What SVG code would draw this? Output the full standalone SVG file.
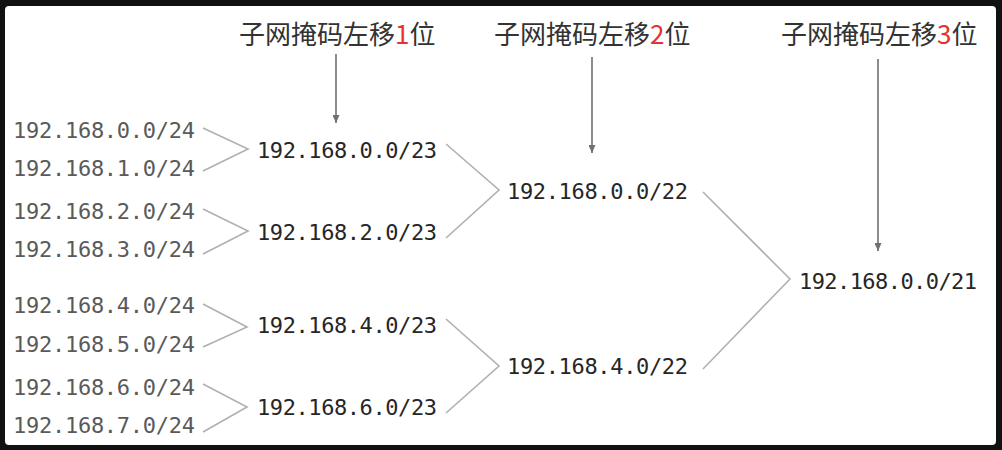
<svg xmlns="http://www.w3.org/2000/svg" width="1002" height="450" viewBox="0 0 1002 450">
  <style>
    .leaf { font-family: "DejaVu Sans Mono", "Liberation Mono", monospace; font-size: 22px; fill: #5a5a5a; }
    .net { font-family: "DejaVu Sans Mono", "Liberation Mono", monospace; font-size: 22px; fill: #262626; }
    .hdr { font-family: "Noto Sans CJK SC", "Noto Sans", sans-serif; font-size: 26px; fill: #333333; }
    .red { fill: #e8312f; }
    .chev { fill: none; stroke: #b0b0b0; stroke-width: 1.6; stroke-linejoin: miter; }
    .arr { fill: none; stroke: #707070; stroke-width: 1.6; }
  </style>
  <defs>
    <marker id="ah" viewBox="0 0 8 7" refX="8" refY="3.5" markerWidth="8" markerHeight="7" markerUnits="userSpaceOnUse" orient="auto">
      <path d="M0,0 L8,3.5 L0,7 Z" fill="#707070"/>
    </marker>
  </defs>
  <rect x="0" y="0" width="1002" height="450" fill="#111111"/>
  <rect x="5" y="6" width="991" height="439" rx="4" fill="#ffffff"/>

  <g id="headers">
    <g id="h1"><text class="hdr" x="239" y="44">子网掩码左移<tspan class="red">1</tspan>位</text></g>
    <g id="h2"><text class="hdr" x="494" y="44">子网掩码左移<tspan class="red">2</tspan>位</text></g>
    <g id="h3"><text class="hdr" x="781" y="44">子网掩码左移<tspan class="red">3</tspan>位</text></g>
  </g>

  <g id="connectors">
    <line class="arr" x1="336" y1="54" x2="336" y2="123" marker-end="url(#ah)"/>
    <line class="arr" x1="592" y1="57" x2="592" y2="153" marker-end="url(#ah)"/>
    <line class="arr" x1="878" y1="59" x2="878" y2="251" marker-end="url(#ah)"/>
    <polyline class="chev" points="203,128 248,149 203,171"/>
    <polyline class="chev" points="203,209 248,231 203,254"/>
    <polyline class="chev" points="203,304 247,327 203,347"/>
    <polyline class="chev" points="203,384 247,407 203,432"/>
    <polyline class="chev" points="446,144 499,190 446,238"/>
    <polyline class="chev" points="446,319 499,366 446,413"/>
    <polyline class="chev" points="703,192 790,279 703,369"/>
  </g>

  <g id="n24-0"><text class="leaf" x="13" y="138" textLength="182" lengthAdjust="spacing">192.168.0.0/24</text></g>
  <g id="n24-1"><text class="leaf" x="13" y="176" textLength="182" lengthAdjust="spacing">192.168.1.0/24</text></g>
  <g id="n24-2"><text class="leaf" x="13" y="219" textLength="182" lengthAdjust="spacing">192.168.2.0/24</text></g>
  <g id="n24-3"><text class="leaf" x="13" y="257" textLength="182" lengthAdjust="spacing">192.168.3.0/24</text></g>
  <g id="n24-4"><text class="leaf" x="13" y="313" textLength="182" lengthAdjust="spacing">192.168.4.0/24</text></g>
  <g id="n24-5"><text class="leaf" x="13" y="352" textLength="182" lengthAdjust="spacing">192.168.5.0/24</text></g>
  <g id="n24-6"><text class="leaf" x="13" y="395" textLength="182" lengthAdjust="spacing">192.168.6.0/24</text></g>
  <g id="n24-7"><text class="leaf" x="13" y="433" textLength="182" lengthAdjust="spacing">192.168.7.0/24</text></g>

  <g id="n23-0"><text class="net" x="257" y="158" textLength="180" lengthAdjust="spacing">192.168.0.0/23</text></g>
  <g id="n23-2"><text class="net" x="257" y="240" textLength="180" lengthAdjust="spacing">192.168.2.0/23</text></g>
  <g id="n23-4"><text class="net" x="257" y="333" textLength="180" lengthAdjust="spacing">192.168.4.0/23</text></g>
  <g id="n23-6"><text class="net" x="257" y="415" textLength="180" lengthAdjust="spacing">192.168.6.0/23</text></g>

  <g id="n22-0"><text class="net" x="507" y="199" textLength="181" lengthAdjust="spacing">192.168.0.0/22</text></g>
  <g id="n22-4"><text class="net" x="507" y="374" textLength="181" lengthAdjust="spacing">192.168.4.0/22</text></g>

  <g id="n21-0"><text class="net" x="799" y="289" textLength="178" lengthAdjust="spacing">192.168.0.0/21</text></g>
</svg>
